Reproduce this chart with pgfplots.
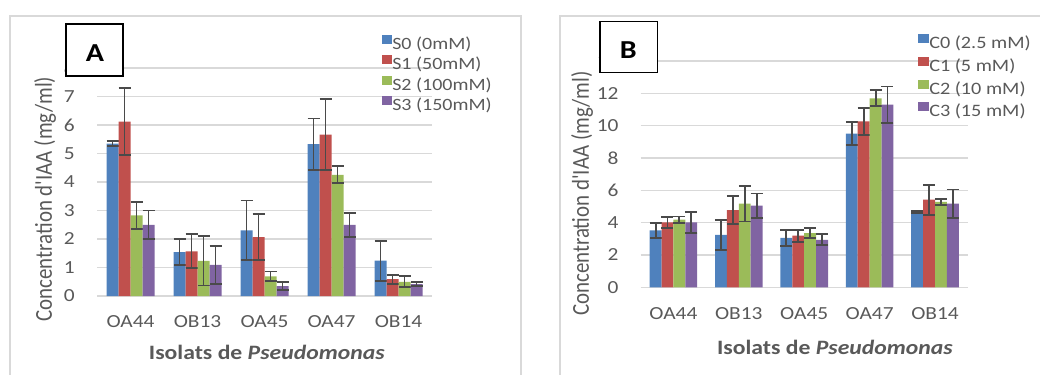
\documentclass[border=0pt]{standalone}
\usepackage{fontspec}
\setmainfont{Carlito}[Ligatures=TeXOff, FakeStretch=1.16]
\newfontfamily\ylabfont{Carlito}[Ligatures=TeXOff]
\usepackage{pgfplots}
\usepackage{pgfplotstable}
\pgfplotsset{compat=1.18}
\definecolor{cA}{HTML}{4F81BD}
\definecolor{cB}{HTML}{C0504D}
\definecolor{cC}{HTML}{9BBB59}
\definecolor{cD}{HTML}{8064A2}
\definecolor{gridgray}{HTML}{D9D9D9}
\definecolor{framegray}{HTML}{D9D9D9}
\definecolor{txtgray}{HTML}{595959}
\definecolor{errgray}{HTML}{4A4A4A}

\pgfplotstableread{
x s0 e0 s1 e1 s2 e2 s3 e3
0 5.35 0.09 6.12 1.17 2.83 0.47 2.50 0.50
1 1.54 0.45 1.57 0.60 1.23 0.86 1.09 0.67
2 2.30 1.05 2.07 0.82 0.69 0.17 0.35 0.13
3 5.33 0.90 5.66 1.25 4.25 0.30 2.50 0.42
4 1.24 0.70 0.59 0.16 0.50 0.19 0.42 0.07
}\dataA

\pgfplotstableread{
x s0 e0 s1 e1 s2 e2 s3 e3
0 3.52 0.45 4.01 0.33 4.18 0.20 4.01 0.66
1 3.25 0.92 4.78 0.86 5.17 1.10 5.05 0.75
2 3.06 0.50 3.19 0.36 3.35 0.30 2.94 0.34
3 9.50 0.70 10.26 0.82 11.69 0.50 11.30 1.12
4 4.66 0.08 5.42 0.93 5.28 0.20 5.17 0.88
}\dataB

\pgfplotsset{
  base/.style={
    scale only axis, anchor=south west,
    ybar=0pt,
    xmin=-0.5, xmax=4.5,
    xtick={0,...,4}, xticklabels={OA44,OB13,OA45,OA47,OB14},
    ymin=0,
    axis line style={draw=none},
    major tick length=0pt,
    ymajorgrids, grid style={line width=1.6bp, color=gridgray},
    tick label style={font=\fontsize{18.5}{22}\selectfont, text=txtgray},
    /pgf/number format/assume math mode=true,
    yticklabel style={anchor=east, inner sep=0pt, xshift=-22bp},
    xticklabel style={anchor=center, inner sep=0pt, yshift=-26bp},
    ylabel style={font=\ylabfont\fontsize{21}{24}\selectfont, text=txtgray, anchor=center},
    xlabel style={font=\fontsize{20.5}{24}\selectfont\bfseries, text=txtgray, anchor=center},
    ylabel={\scalebox{1}[1.16]{Concentration d'IAA (mg/ml)}},
    xlabel={Isolats de \textit{Pseudomonas}},
    error bars/y dir=both, error bars/y explicit,
    error bars/error bar style={line width=1.9bp, draw=errgray},
    error bars/error mark options={rotate=90, line width=1.9bp, mark size=6bp, draw=errgray},
    legend style={draw=none, fill=none, anchor=north west, text=txtgray,
      nodes={inner sep=0pt, text height=13bp, text depth=4bp}},
    legend cell align=left,
    /tikz/every even column/.append style={column sep=5bp},
  }
}

\begin{document}
\begin{tikzpicture}[x=1bp,y=1bp]
\useasboundingbox (0,0) rectangle (1040,374);
\draw[framegray, line width=1.5bp] (10,-5) -- (10,358) -- (521,358) -- (521,-5);
\draw[framegray, line width=1.5bp] (560,-5) -- (560,358) -- (1045,358);

\begin{axis}[base,
  at={(97bp,78bp)}, width=335bp, height=228bp,
  ymax=8, ytick={0,...,8},
  bar width=12bp,
  ylabel style={at={(axis description cs:-0.155,0.425)}},
  xlabel style={at={(axis description cs:0.507,-0.246)}},
  legend style={at={(0.842,1.156)}, font=\fontsize{17.3}{20}\selectfont, row sep=2bp},
  legend image code/.code={\fill[#1] (0bp,1bp) rectangle (10bp,10bp);},
]
\addplot[fill=cA, draw=none] table[x=x, y=s0, y error=e0] {\dataA};
\addplot[fill=cB, draw=none] table[x=x, y=s1, y error=e1] {\dataA};
\addplot[fill=cC, draw=none] table[x=x, y=s2, y error=e2] {\dataA};
\addplot[fill=cD, draw=none] table[x=x, y=s3, y error=e3] {\dataA};
\legend{S0 (0mM), S1 (50mM), S2 (100mM), S3 (150mM)}
\end{axis}

\begin{axis}[base,
  at={(640.7bp,86.7bp)}, width=327bp, height=226.3bp,
  ymax=14, ytick={0,2,...,14},
  bar width=11.9bp,
  ylabel style={at={(axis description cs:-0.1795,0.414)}},
  xlabel style={at={(axis description cs:0.594,-0.264)}},
  legend style={at={(0.839,1.128)}, font=\fontsize{17.5}{21}\selectfont, row sep=4.2bp},
  legend image code/.code={\fill[#1] (0bp,1bp) rectangle (11bp,10bp);},
]
\addplot[fill=cA, draw=none] table[x=x, y=s0, y error=e0] {\dataB};
\addplot[fill=cB, draw=none] table[x=x, y=s1, y error=e1] {\dataB};
\addplot[fill=cC, draw=none] table[x=x, y=s2, y error=e2] {\dataB};
\addplot[fill=cD, draw=none] table[x=x, y=s3, y error=e3] {\dataB};
\legend{C0 (2.5 mM), C1 (5 mM), C2 (10 mM), C3 (15 mM)}
\end{axis}

\draw[black, line width=1.3bp, fill=white] (66,298) rectangle (123,350);
\node[font=\fontsize{26}{30}\selectfont\bfseries, inner sep=0pt] at (95,321) {A};
\draw[black, line width=1.3bp, fill=white] (600,301.3) rectangle (657.7,352.7);
\node[font=\fontsize{26}{30}\selectfont\bfseries, inner sep=0pt] at (628.3,324) {B};
\end{tikzpicture}
\end{document}
